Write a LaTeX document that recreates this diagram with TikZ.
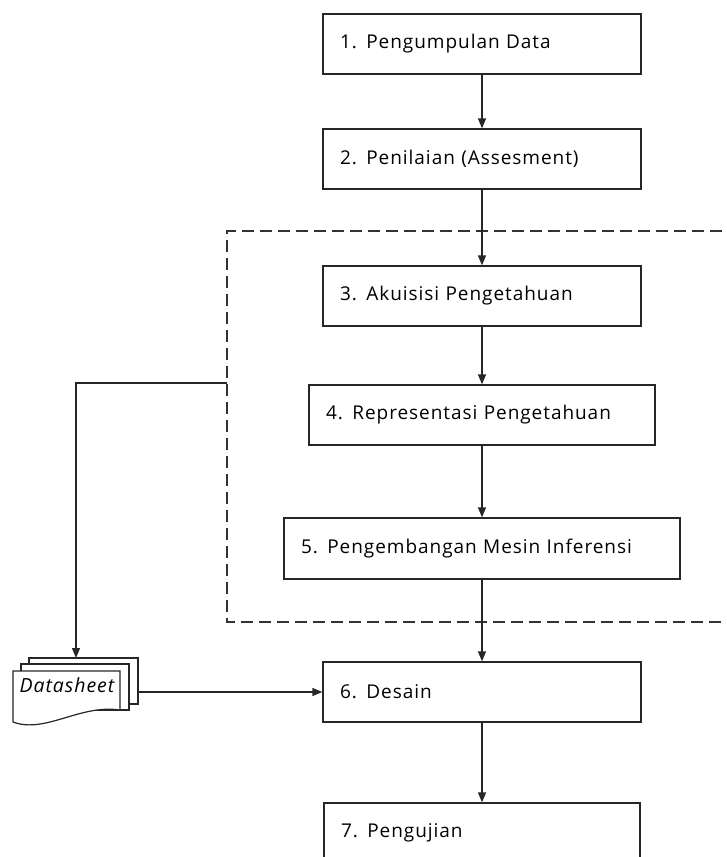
\documentclass[tikz,border=0pt]{standalone}
\usepackage{fontspec}
\setmainfont[LetterSpace=5]{Open Sans}
\usetikzlibrary{arrows.meta}
\begin{document}
\begin{tikzpicture}[x=1pt,y=-1pt,
  line width=1.2pt,
  stepbox/.style={draw=black!85, line width=1.3pt, fill=white, minimum height=60pt,
    inner xsep=17pt, inner ysep=0pt, align=left, font=\fontsize{19}{21}\selectfont},
  flow/.style={draw=black!85, line width=1.3pt, -{Triangle[length=10pt,width=8pt]}},
  frame/.style={draw=black!80, line width=1.3pt, dash pattern=on 12pt off 6pt},
  page/.style={draw=black!85, line width=1.2pt, fill=white}]
\useasboundingbox (0,0) rectangle (727,857);
\clip (0,0) rectangle (727,857);
% dashed frame
\draw[frame] (740,231) -- (227,231) -- (227,622) -- (740,622);
% boxes
\node[stepbox, text width=284pt] (b1) at (482,44) {1. Pengumpulan Data};
\node[stepbox, text width=284pt] (b2) at (482,159) {2. Penilaian (Assesment)};
\node[stepbox, text width=284pt] (b3) at (482,296) {3. Akuisisi Pengetahuan};
\node[stepbox, text width=312pt] (b4) at (482,415) {4. Representasi Pengetahuan};
\node[stepbox, text width=362pt, minimum height=61pt] (b5) at (482,548.5) {5. Pengembangan Mesin Inferensi};
\node[stepbox, text width=284pt] (b6) at (482,692) {6. Desain};
\node[stepbox, text width=282pt] (b7) at (482,833) {7. Pengujian};
% datasheet (multi-document)
\draw[page] (29,658) rectangle (138,704);
\draw[page] (21,664) rectangle (129,710);
\draw[page] (13,722) -- (13,671) -- (120,671) -- (120,710)
   .. controls (80,704) and (45,734) .. cycle;
\node[font=\fontsize{19.5}{21}\selectfont\itshape, inner sep=0pt] (ds) at (67,685) {Datasheet};
\coordinate (dstop) at (76,658);
\coordinate (dsright) at (138,692);
\coordinate (sj) at (227,383);
% connectors
\draw[flow] (b1.south) -- (b1.south |- b2.north);
\draw[flow] (b2.south) -- (b2.south |- b3.north);
\draw[flow] (b3.south) -- (b3.south |- b4.north);
\draw[flow] (b4.south) -- (b4.south |- b5.north);
\draw[flow] (b5.south) -- (b5.south |- b6.north);
\draw[flow] (b6.south) -- (b6.south |- b7.north);
\draw[flow] (sj) -| (dstop);
\draw[flow] (dsright) -- (b6.west |- dsright);
\end{tikzpicture}
\end{document}
